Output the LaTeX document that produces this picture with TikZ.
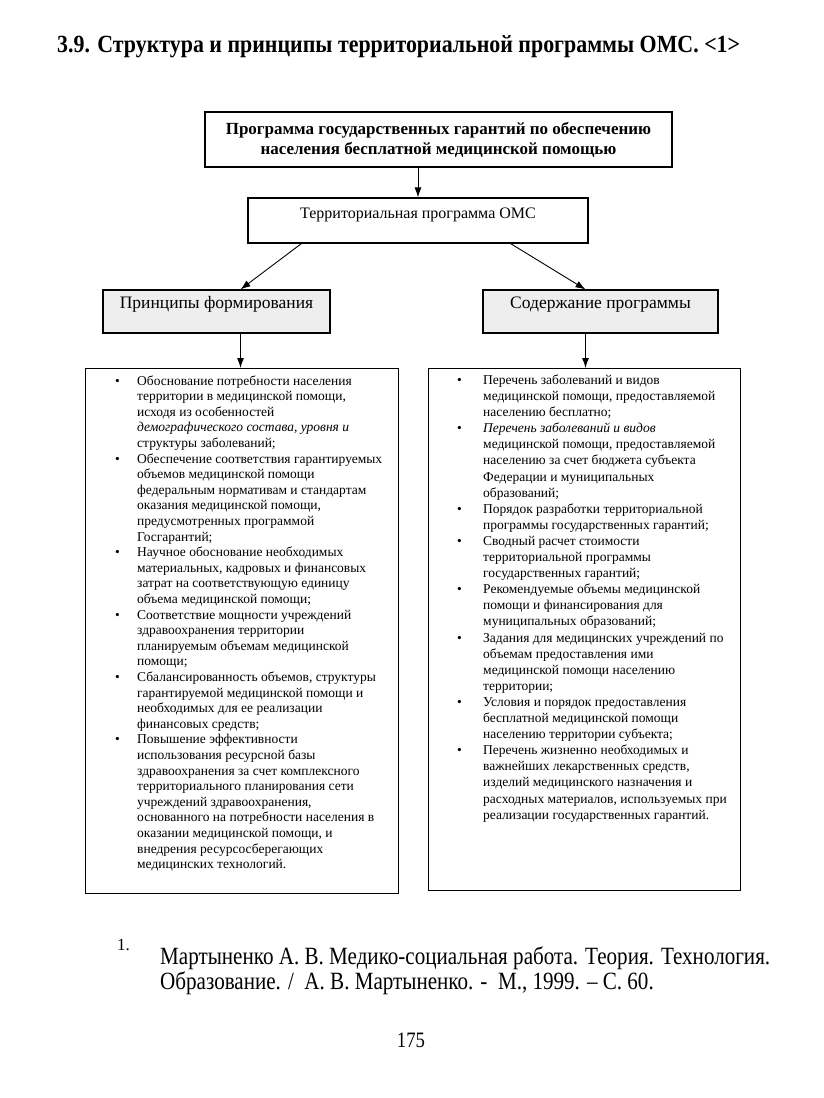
\documentclass[tikz,border=0pt]{standalone}
\usepackage{fontspec}
\setmainfont{Liberation Serif}
\newfontfamily\uzkij[FakeStretch=0.85]{Liberation Serif}
\usetikzlibrary{arrows.meta,positioning}
\tikzset{
  blok/.style={draw,line width=1.1pt,inner xsep=0pt,inner ysep=0pt,align=center},
  ten/.style={blok,fill=gray!13},
  strel/.style={-{Latex[length=10pt,width=7pt]},line width=0.9pt},
  ramka/.style={draw,line width=1.1pt,anchor=north west,inner sep=0pt},
  spisok/.style={anchor=north west,inner sep=0pt},
  tekst/.style={anchor=base west,inner sep=0pt},
}

\begin{document}
\begin{tikzpicture}[x=1pt,y=-1pt]
  \useasboundingbox (0,0) rectangle (823,1098);
  \node[tekst] (zag) at (57,52) {\resizebox{683pt}{17pt}{\bfseries 3.9. Структура и принципы территориальной программы ОМС. <1>}};

  \node[blok,minimum width=467,minimum height=55,font=\fontsize{17}{20}\selectfont\bfseries] (gar) at (438.5,139.5)
    {Программа государственных гарантий по обеспечению\\населения бесплатной медицинской помощью};
  \node[blok,minimum width=340,text height=20pt,text depth=25pt,font=\fontsize{16}{19}\selectfont] (terr) at (418,220.5)
    {Территориальная программа ОМС};
  \node[ten,minimum width=227,text height=18pt,text depth=25pt,font=\fontsize{17.5}{19}\selectfont] (princ) at (216.5,311.5)
    {Принципы формирования};
  \node[ten,minimum width=235,text height=18pt,text depth=25pt,font=\fontsize{17.5}{19}\selectfont] (sod) at (600.5,311.5)
    {Содержание программы};
  \node[ramka,minimum width=313,minimum height=525] (lbox) at (85,368) {};
  \node[ramka,minimum width=312,minimum height=522] (rbox) at (428,368) {};

  \node[spisok,font=\fontsize{13.5}{15.6}\selectfont] (lspis) at (115,374) {\begin{tabular}{@{}p{22pt}@{}l@{}}
    \textbullet & Обоснование потребности населения\\
    & территории в медицинской помощи,\\
    & исходя из особенностей\\
    & \textit{демографического состава, уровня и}\\
    & структуры заболеваний;\\
    \textbullet & Обеспечение соответствия гарантируемых\\
    & объемов медицинской помощи\\
    & федеральным нормативам и стандартам\\
    & оказания медицинской помощи,\\
    & предусмотренных программой\\
    & Госгарантий;\\
    \textbullet & Научное обоснование необходимых\\
    & материальных, кадровых и финансовых\\
    & затрат на соответствующую единицу\\
    & объема медицинской помощи;\\
    \textbullet & Соответствие мощности учреждений\\
    & здравоохранения территории\\
    & планируемым объемам медицинской\\
    & помощи;\\
    \textbullet & Сбалансированность объемов, структуры\\
    & гарантируемой медицинской помощи и\\
    & необходимых для ее реализации\\
    & финансовых средств;\\
    \textbullet & Повышение эффективности\\
    & использования ресурсной базы\\
    & здравоохранения за счет комплексного\\
    & территориального планирования сети\\
    & учреждений здравоохранения,\\
    & основанного на потребности населения в\\
    & оказании медицинской помощи, и\\
    & внедрения ресурсосберегающих\\
    & медицинских технологий.
  \end{tabular}};
  \node[spisok,font=\fontsize{13.5}{16.1}\selectfont] (rspis) at (457,373) {\begin{tabular}{@{}p{26pt}@{}l@{}}
    \textbullet & Перечень заболеваний и видов\\
    & медицинской помощи, предоставляемой\\
    & населению бесплатно;\\
    \textbullet & \textit{Перечень заболеваний и видов}\\
    & медицинской помощи, предоставляемой\\
    & населению за счет бюджета субъекта\\
    & Федерации и муниципальных\\
    & образований;\\
    \textbullet & Порядок разработки территориальной\\
    & программы государственных гарантий;\\
    \textbullet & Сводный расчет стоимости\\
    & территориальной программы\\
    & государственных гарантий;\\
    \textbullet & Рекомендуемые объемы медицинской\\
    & помощи и финансирования для\\
    & муниципальных образований;\\
    \textbullet & Задания для медицинских учреждений по\\
    & объемам предоставления ими\\
    & медицинской помощи населению\\
    & территории;\\
    \textbullet & Условия и порядок предоставления\\
    & бесплатной медицинской помощи\\
    & населению территории субъекта;\\
    \textbullet & Перечень жизненно необходимых и\\
    & важнейших лекарственных средств,\\
    & изделий медицинского назначения и\\
    & расходных материалов, используемых при\\
    & реализации государственных гарантий.
  \end{tabular}};

  \draw[strel] (gar.south -| terr.north) -- (terr.north);
  \draw[strel] ([xshift=54pt]terr.south west) -- ([xshift=24pt]princ.north);
  \draw[strel] ([xshift=-78pt]terr.south east) -- ([xshift=-15pt]sod.north);
  \draw[strel] ([xshift=24pt]princ.south) -- ([xshift=24pt]princ.south |- lbox.north);
  \draw[strel] ([xshift=-15pt]sod.south) -- ([xshift=-15pt]sod.south |- rbox.north);

  \node[tekst,font=\fontsize{17}{20}\selectfont] (nom) at (117,950) {1.};
  \node[tekst,font=\uzkij\fontsize{24.8}{25}\selectfont] (lit1) at (160,964) {Мартыненко А. В. Медико-социальная работа. Теория. Технология.};
  \node[tekst,font=\uzkij\fontsize{24.8}{25}\selectfont] (lit2) at (160,989) {Образование. /\ \ А. В. Мартыненко. -\ \ М., 1999. – С. 60.};
  \node[anchor=base,inner sep=0pt,font=\uzkij\fontsize{22}{24}\selectfont] (str) at (411,1047) {175};
\end{tikzpicture}
\end{document}
